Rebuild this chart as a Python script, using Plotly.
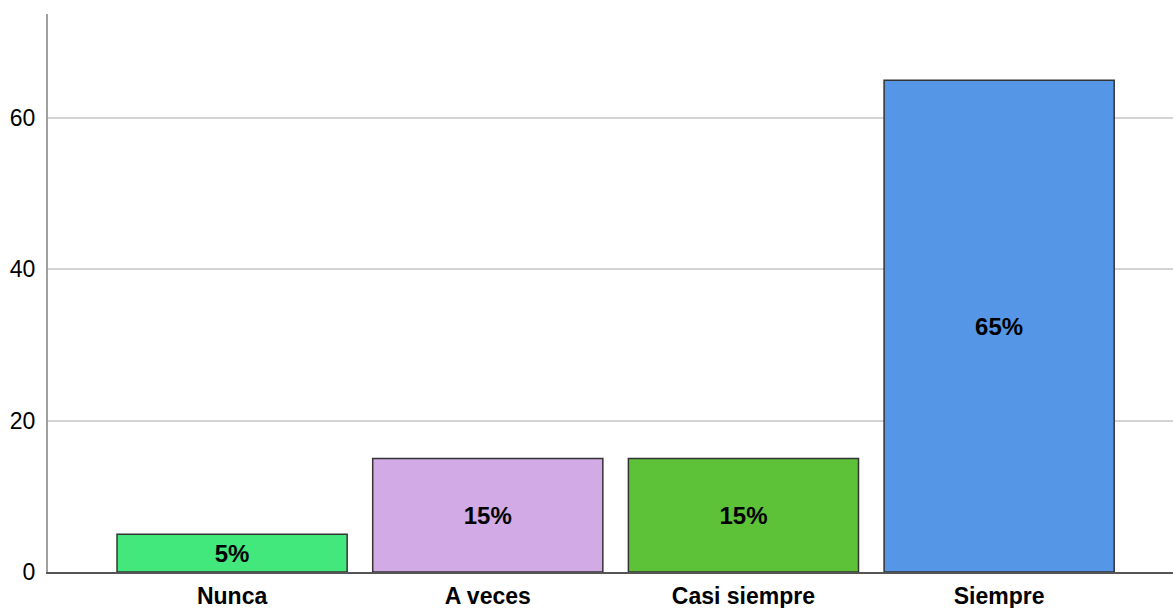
import plotly.graph_objects as go

categories = ["Nunca", "A veces", "Casi siempre", "Siempre"]
percent = [5, 15, 15, 65]
colors = ["#42E87C", "#D2AAE6", "#5EC238", "#5597E6"]
y_ticks = [0, 20, 40, 60]

fig = go.Figure(
    go.Bar(
        x=categories,
        y=percent,
        width=0.9,
        marker=dict(color=colors, line=dict(color="#333333", width=1.5)),
        text=[f"{v}%" for v in percent],
        textposition="inside",
        insidetextanchor="middle",
        constraintext="none",
        textfont=dict(family="Liberation Sans, Arial", size=24, color="black", weight="bold"),
        textangle=0,
        hoverinfo="skip",
    )
)

fig.update_layout(
    width=1173,
    height=608,
    margin=dict(l=48, r=0, t=14, b=36),
    paper_bgcolor="white",
    plot_bgcolor="white",
    showlegend=False,
    font=dict(family="Liberation Sans, Arial", size=23, color="black"),
)

fig.update_xaxes(
    range=[-0.72, 3.68],
    showline=True,
    linecolor="#555555",
    linewidth=2,
    showgrid=False,
    ticks="",
    tickfont=dict(size=23, weight="bold", color="black"),
    ticklabelstandoff=2,
)

fig.update_yaxes(
    range=[0, 73.75],
    tickvals=y_ticks,
    showline=True,
    linecolor="#A0A0A0",
    linewidth=2,
    showgrid=True,
    gridcolor="#D4D4D4",
    gridwidth=2,
    zeroline=False,
    ticks="",
    ticklabelstandoff=6,
    tickfont=dict(size=23, color="black"),
)

fig.write_html(
    "out.html",
    config={"displayModeBar": False},
    post_script="document.body.style.margin='0';document.body.style.overflow='hidden';",
)
